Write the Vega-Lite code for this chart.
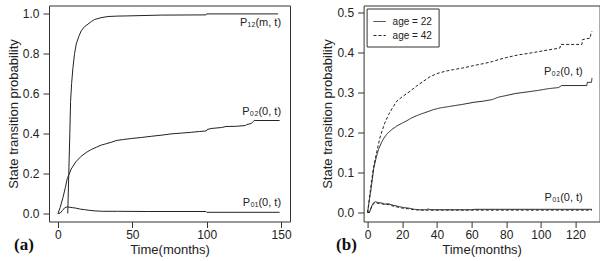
{
  "$schema": "https://vega.github.io/schema/vega-lite/v6.json",
  "padding": {"left": 6, "top": 4.5, "right": 4, "bottom": 0},
  "spacing": 28.6,
  "background": "white",
  "resolve": {"scale": {"strokeDash": "independent"}, "legend": {"strokeDash": "independent"}},
  "config": {
    "font": "Liberation Sans",
    "view": {"stroke": "#333", "strokeWidth": 1},
    "axis": {"domain": false, "grid": false, "ticks": true, "tickSize": 6, "tickColor": "#333", "labelFontSize": 12, "labelColor": "#222", "titleFontSize": 13, "titleFontWeight": "normal", "titleColor": "#222", "labelFlush": false, "labelOverlap": false},
    "axisX": {"labelPadding": 1.5, "titlePadding": 3.5},
    "axisY": {"labelPadding": 4, "titlePadding": 2},
    "legend": {"strokeColor": "#333", "padding": 6, "offset": 3, "labelFontSize": 10, "labelColor": "#222", "symbolType": "stroke", "symbolSize": 150, "symbolStrokeWidth": 1, "symbolStrokeColor": "#222", "rowPadding": 2, "labelOffset": 6, "fillColor": "white"}
  },
  "datasets": {
    "a": [
      {"c":"P12","t":6.6,"v":0},{"c":"P12","t":7.3,"v":0.2},{"c":"P12","t":8,"v":0.4},{"c":"P12","t":8.5,"v":0.56},{"c":"P12","t":9.2,"v":0.65},{"c":"P12","t":10.1,"v":0.73},{"c":"P12","t":11.2,"v":0.8},{"c":"P12","t":12.3,"v":0.847},{"c":"P12","t":14,"v":0.885},{"c":"P12","t":15.7,"v":0.914},{"c":"P12","t":18,"v":0.935},{"c":"P12","t":20.2,"v":0.947},{"c":"P12","t":22.5,"v":0.96},{"c":"P12","t":24.6,"v":0.97},{"c":"P12","t":29,"v":0.979},{"c":"P12","t":33.6,"v":0.985},{"c":"P12","t":40,"v":0.987},{"c":"P12","t":47,"v":0.988},{"c":"P12","t":69.5,"v":0.992},{"c":"P12","t":99.5,"v":0.993},{"c":"P12","t":100,"v":0.998},{"c":"P12","t":148,"v":0.998},
      {"c":"P02","t":0,"v":0},{"c":"P02","t":1.5,"v":0.03},{"c":"P02","t":3.4,"v":0.08},{"c":"P02","t":5,"v":0.13},{"c":"P02","t":6.3,"v":0.175},{"c":"P02","t":8.9,"v":0.222},{"c":"P02","t":12,"v":0.258},{"c":"P02","t":15.6,"v":0.286},{"c":"P02","t":19,"v":0.305},{"c":"P02","t":22.4,"v":0.32},{"c":"P02","t":26,"v":0.332},{"c":"P02","t":29.1,"v":0.342},{"c":"P02","t":32,"v":0.348},{"c":"P02","t":35.8,"v":0.356},{"c":"P02","t":39.2,"v":0.365},{"c":"P02","t":44,"v":0.37},{"c":"P02","t":49.3,"v":0.375},{"c":"P02","t":56,"v":0.38},{"c":"P02","t":62.7,"v":0.386},{"c":"P02","t":70,"v":0.392},{"c":"P02","t":76,"v":0.398},{"c":"P02","t":83,"v":0.402},{"c":"P02","t":89.7,"v":0.406},{"c":"P02","t":95,"v":0.41},{"c":"P02","t":99.8,"v":0.413},{"c":"P02","t":100.3,"v":0.42},{"c":"P02","t":103,"v":0.425},{"c":"P02","t":110,"v":0.43},{"c":"P02","t":113,"v":0.435},{"c":"P02","t":120,"v":0.436},{"c":"P02","t":126,"v":0.44},{"c":"P02","t":127,"v":0.445},{"c":"P02","t":130,"v":0.45},{"c":"P02","t":131,"v":0.458},{"c":"P02","t":132,"v":0.465},{"c":"P02","t":149,"v":0.465},
      {"c":"P01","t":0,"v":0},{"c":"P01","t":1.5,"v":0.002},{"c":"P01","t":3,"v":0.015},{"c":"P01","t":4.5,"v":0.028},{"c":"P01","t":6,"v":0.033},{"c":"P01","t":8,"v":0.031},{"c":"P01","t":10,"v":0.029},{"c":"P01","t":12,"v":0.027},{"c":"P01","t":15,"v":0.022},{"c":"P01","t":18,"v":0.019},{"c":"P01","t":21,"v":0.016},{"c":"P01","t":25,"v":0.013},{"c":"P01","t":30,"v":0.011},{"c":"P01","t":40,"v":0.011},{"c":"P01","t":60,"v":0.01},{"c":"P01","t":99.5,"v":0.01},{"c":"P01","t":100,"v":0.006},{"c":"P01","t":149,"v":0.006}
    ],
    "la": [
      {"t":150,"v":0.955,"label":"P₁₂(m, t)"},
      {"t":150,"v":0.51,"label":"P₀₂(0, t)"},
      {"t":150,"v":0.055,"label":"P₀₁(0, t)"}
    ],
    "b": [
      {"c":"P02a","age":"age = 22","t":0,"v":0},{"c":"P02a","age":"age = 22","t":1,"v":0.03},{"c":"P02a","age":"age = 22","t":2,"v":0.058},{"c":"P02a","age":"age = 22","t":3.5,"v":0.11},{"c":"P02a","age":"age = 22","t":5,"v":0.138},{"c":"P02a","age":"age = 22","t":6.3,"v":0.158},{"c":"P02a","age":"age = 22","t":8,"v":0.175},{"c":"P02a","age":"age = 22","t":9.2,"v":0.185},{"c":"P02a","age":"age = 22","t":11.2,"v":0.197},{"c":"P02a","age":"age = 22","t":14,"v":0.208},{"c":"P02a","age":"age = 22","t":17,"v":0.217},{"c":"P02a","age":"age = 22","t":20,"v":0.224},{"c":"P02a","age":"age = 22","t":22.7,"v":0.23},{"c":"P02a","age":"age = 22","t":25,"v":0.236},{"c":"P02a","age":"age = 22","t":28,"v":0.242},{"c":"P02a","age":"age = 22","t":31,"v":0.247},{"c":"P02a","age":"age = 22","t":35,"v":0.253},{"c":"P02a","age":"age = 22","t":38.1,"v":0.258},{"c":"P02a","age":"age = 22","t":42,"v":0.262},{"c":"P02a","age":"age = 22","t":47.7,"v":0.266},{"c":"P02a","age":"age = 22","t":55,"v":0.271},{"c":"P02a","age":"age = 22","t":61.2,"v":0.276},{"c":"P02a","age":"age = 22","t":66.9,"v":0.279},{"c":"P02a","age":"age = 22","t":72,"v":0.283},{"c":"P02a","age":"age = 22","t":75.6,"v":0.289},{"c":"P02a","age":"age = 22","t":80,"v":0.293},{"c":"P02a","age":"age = 22","t":85.2,"v":0.298},{"c":"P02a","age":"age = 22","t":92,"v":0.302},{"c":"P02a","age":"age = 22","t":98.7,"v":0.306},{"c":"P02a","age":"age = 22","t":104,"v":0.31},{"c":"P02a","age":"age = 22","t":110.2,"v":0.313},{"c":"P02a","age":"age = 22","t":112,"v":0.318},{"c":"P02a","age":"age = 22","t":126.5,"v":0.318},{"c":"P02a","age":"age = 22","t":126.8,"v":0.326},{"c":"P02a","age":"age = 22","t":129.2,"v":0.326},{"c":"P02a","age":"age = 22","t":129.5,"v":0.337},
      {"c":"P02b","age":"age = 42","t":0,"v":0},{"c":"P02b","age":"age = 42","t":1,"v":0.035},{"c":"P02b","age":"age = 42","t":2,"v":0.07},{"c":"P02b","age":"age = 42","t":3.5,"v":0.115},{"c":"P02b","age":"age = 42","t":5.4,"v":0.154},{"c":"P02b","age":"age = 42","t":7,"v":0.185},{"c":"P02b","age":"age = 42","t":8.3,"v":0.204},{"c":"P02b","age":"age = 42","t":10,"v":0.225},{"c":"P02b","age":"age = 42","t":12.1,"v":0.245},{"c":"P02b","age":"age = 42","t":14.5,"v":0.263},{"c":"P02b","age":"age = 42","t":16.9,"v":0.279},{"c":"P02b","age":"age = 42","t":20,"v":0.29},{"c":"P02b","age":"age = 42","t":24.6,"v":0.304},{"c":"P02b","age":"age = 42","t":28,"v":0.316},{"c":"P02b","age":"age = 42","t":32.3,"v":0.329},{"c":"P02b","age":"age = 42","t":36,"v":0.34},{"c":"P02b","age":"age = 42","t":40,"v":0.348},{"c":"P02b","age":"age = 42","t":45,"v":0.354},{"c":"P02b","age":"age = 42","t":49.6,"v":0.358},{"c":"P02b","age":"age = 42","t":55,"v":0.362},{"c":"P02b","age":"age = 42","t":61.2,"v":0.368},{"c":"P02b","age":"age = 42","t":66.9,"v":0.373},{"c":"P02b","age":"age = 42","t":72,"v":0.378},{"c":"P02b","age":"age = 42","t":75.6,"v":0.383},{"c":"P02b","age":"age = 42","t":80,"v":0.388},{"c":"P02b","age":"age = 42","t":87.1,"v":0.395},{"c":"P02b","age":"age = 42","t":92,"v":0.398},{"c":"P02b","age":"age = 42","t":98.7,"v":0.403},{"c":"P02b","age":"age = 42","t":104,"v":0.407},{"c":"P02b","age":"age = 42","t":108.3,"v":0.41},{"c":"P02b","age":"age = 42","t":111,"v":0.412},{"c":"P02b","age":"age = 42","t":111.5,"v":0.421},{"c":"P02b","age":"age = 42","t":123.7,"v":0.421},{"c":"P02b","age":"age = 42","t":124,"v":0.433},{"c":"P02b","age":"age = 42","t":128.5,"v":0.437},{"c":"P02b","age":"age = 42","t":128.8,"v":0.446},{"c":"P02b","age":"age = 42","t":129.5,"v":0.454},
      {"c":"P01a","age":"age = 22","t":0,"v":0.003},{"c":"P01a","age":"age = 22","t":1,"v":0},{"c":"P01a","age":"age = 22","t":2,"v":0.012},{"c":"P01a","age":"age = 22","t":3,"v":0.022},{"c":"P01a","age":"age = 22","t":4.4,"v":0.027},{"c":"P01a","age":"age = 22","t":6,"v":0.025},{"c":"P01a","age":"age = 22","t":8,"v":0.024},{"c":"P01a","age":"age = 22","t":10,"v":0.021},{"c":"P01a","age":"age = 22","t":12,"v":0.022},{"c":"P01a","age":"age = 22","t":14,"v":0.019},{"c":"P01a","age":"age = 22","t":17,"v":0.016},{"c":"P01a","age":"age = 22","t":20,"v":0.013},{"c":"P01a","age":"age = 22","t":23.7,"v":0.011},{"c":"P01a","age":"age = 22","t":27,"v":0.008},{"c":"P01a","age":"age = 22","t":30,"v":0.007},{"c":"P01a","age":"age = 22","t":34,"v":0.007},{"c":"P01a","age":"age = 22","t":35,"v":0.009},{"c":"P01a","age":"age = 22","t":36,"v":0.007},{"c":"P01a","age":"age = 22","t":60,"v":0.007},{"c":"P01a","age":"age = 22","t":62,"v":0.008},{"c":"P01a","age":"age = 22","t":90,"v":0.008},{"c":"P01a","age":"age = 22","t":129.5,"v":0.008},
      {"c":"P01b","age":"age = 42","t":0,"v":0},{"c":"P01b","age":"age = 42","t":1,"v":0},{"c":"P01b","age":"age = 42","t":2,"v":0.01},{"c":"P01b","age":"age = 42","t":3,"v":0.02},{"c":"P01b","age":"age = 42","t":4.4,"v":0.025},{"c":"P01b","age":"age = 42","t":6,"v":0.023},{"c":"P01b","age":"age = 42","t":8,"v":0.022},{"c":"P01b","age":"age = 42","t":10,"v":0.02},{"c":"P01b","age":"age = 42","t":12,"v":0.02},{"c":"P01b","age":"age = 42","t":14,"v":0.017},{"c":"P01b","age":"age = 42","t":17,"v":0.014},{"c":"P01b","age":"age = 42","t":20,"v":0.011},{"c":"P01b","age":"age = 42","t":24,"v":0.009},{"c":"P01b","age":"age = 42","t":27,"v":0.007},{"c":"P01b","age":"age = 42","t":30,"v":0.006},{"c":"P01b","age":"age = 42","t":60,"v":0.006},{"c":"P01b","age":"age = 42","t":129.5,"v":0.006}
    ],
    "lb": [
      {"t":124.2,"v":0.3526,"label":"P₀₂(0, t)"},
      {"t":124.2,"v":0.037,"label":"P₀₁(0, t)"}
    ]
  },
  "hconcat": [
    {
      "width": 241,
      "height": 216,
      "title": {"text": "(a)", "orient": "bottom", "anchor": "start", "frame": "group", "offset": 0, "dx": -35, "dy": -20, "font": "Liberation Serif", "fontSize": 17, "fontWeight": "bold", "color": "#111"},
      "encoding": {
        "x": {"field": "t", "type": "quantitative", "scale": {"domain": [-6, 156], "nice": false, "zero": false}, "axis": {"values": [0, 50, 100, 150], "title": "Time(months)", "labelOverlap": false}},
        "y": {"field": "v", "type": "quantitative", "scale": {"domain": [-0.04, 1.04], "nice": false, "zero": false}, "axis": {"values": [0, 0.2, 0.4, 0.6, 0.8, 1], "format": ".1f", "title": "State transition probability", "labelOverlap": false}}
      },
      "layer": [
        {
          "data": {"name": "a"},
          "mark": {"type": "line", "stroke": "#222", "strokeWidth": 1},
          "encoding": {"detail": {"field": "c"}}
        },
        {
          "data": {"name": "la"},
          "mark": {"type": "text", "align": "right", "baseline": "middle", "fontSize": 11, "color": "#222"},
          "encoding": {"text": {"field": "label"}}
        }
      ]
    },
    {
      "width": 236,
      "height": 216,
      "title": {"text": "(b)", "orient": "bottom", "anchor": "start", "frame": "group", "offset": 0, "dx": -27.5, "dy": -20, "font": "Liberation Serif", "fontSize": 17, "fontWeight": "bold", "color": "#111"},
      "encoding": {
        "x": {"field": "t", "type": "quantitative", "scale": {"domain": [-2.3, 133.9], "nice": false, "zero": false}, "axis": {"values": [0, 20, 40, 60, 80, 100, 120], "title": "Time(months)", "labelOverlap": false}},
        "y": {"field": "v", "type": "quantitative", "scale": {"domain": [-0.0225, 0.5185], "nice": false, "zero": false}, "axis": {"values": [0, 0.1, 0.2, 0.3, 0.4, 0.5], "format": ".1f", "title": "State transition probability", "labelOverlap": false}}
      },
      "layer": [
        {
          "data": {"name": "b"},
          "mark": {"type": "line", "stroke": "#222", "strokeWidth": 1},
          "encoding": {
            "detail": {"field": "c"},
            "strokeDash": {"field": "age", "type": "nominal", "scale": {"domain": ["age = 22", "age = 42"], "range": [[1, 0], [3, 2]]}, "legend": {"title": null, "orient": "top-left"}}
          }
        },
        {
          "data": {"name": "lb"},
          "mark": {"type": "text", "align": "right", "baseline": "middle", "fontSize": 11, "color": "#222"},
          "encoding": {"text": {"field": "label"}}
        }
      ]
    }
  ]
}
